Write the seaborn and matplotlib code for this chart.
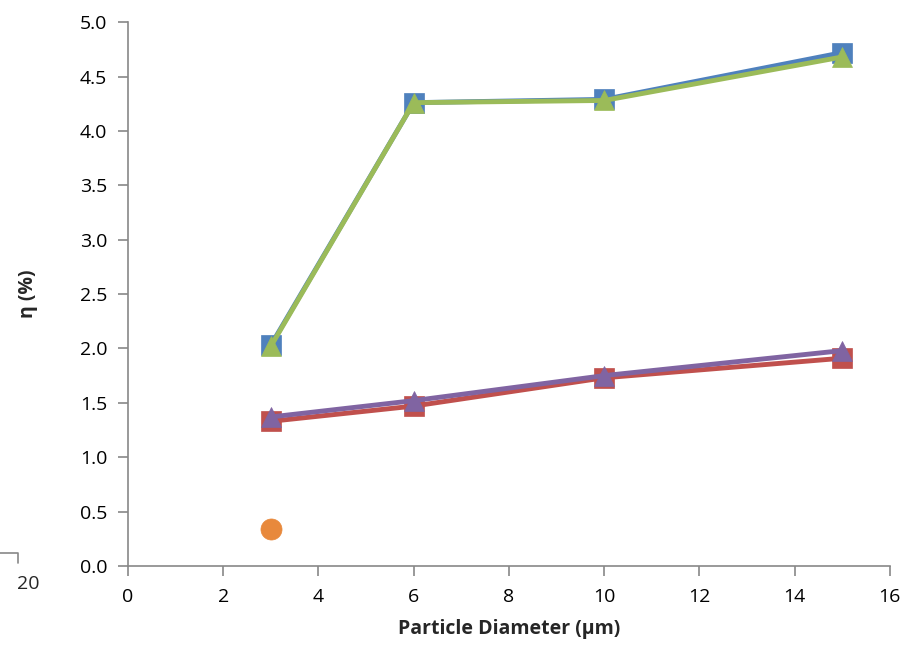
"""
Purpose: particle diameter vs efficiency chart
"""

# Dependencies
import numpy as np
import pandas as pd
import seaborn as sns
import matplotlib.pyplot as plt
from matplotlib.lines import Line2D

# Data
diameter = [3, 6, 10, 15]
blue_sq = [2.03, 4.26, 4.29, 4.72]
red_sq = [1.33, 1.47, 1.73, 1.91]
purple_tri = [1.37, 1.52, 1.75, 1.98]
green_tri = [2.02, 4.26, 4.28, 4.68]
orange_x = [3]
orange_pt = [0.34]

xticks = [0, 2, 4, 6, 8, 10, 12, 14, 16]
yticks = [0.0, 0.5, 1.0, 1.5, 2.0, 2.5, 3.0, 3.5, 4.0, 4.5, 5.0]

sns.set_style('white')
plt.rcParams['font.family'] = ['Open Sans', 'DejaVu Sans']

fig = plt.figure(figsize=(9.08, 6.52), dpi=100)
ax = fig.add_axes([0.141, 0.132, 0.839, 0.834])

series = [
    (blue_sq, '#4F81BD', 's'),
    (red_sq, '#C0504D', 's'),
    (purple_tri, '#8064A2', '^'),
    (green_tri, '#9BBB59', '^'),
]
for vals, col, mk in series:
    sns.lineplot(x=diameter, y=vals, ax=ax, color=col, linewidth=3.5,
                 marker=mk, markersize=14, markeredgecolor=col,
                 markeredgewidth=0.5)

sns.scatterplot(x=orange_x, y=orange_pt, ax=ax, color='#E8893C', s=230,
                edgecolor='#E8893C', linewidth=0.5, zorder=5)

ax.set_xlim(0, 16)
ax.set_ylim(0, 5.0)
ax.set_xticks(xticks)
ax.set_yticks(yticks)
ax.set_yticklabels([f'{v:.1f}' for v in yticks])
ax.tick_params(axis='both', left=True, bottom=True, labelsize=14,
               colors='#000000', length=7, width=1.2, direction='out',
               color='#888888', pad=8)
ax.tick_params(axis='x', pad=9)
for side in ['top', 'right']:
    ax.spines[side].set_visible(False)
for side in ['left', 'bottom']:
    ax.spines[side].set_color('#888888')
    ax.spines[side].set_linewidth(1.2)

ax.set_xlabel('Particle Diameter (µm)', fontsize=14, fontweight='bold', labelpad=9)
ax.set_ylabel('η (%)', fontsize=14, fontweight='bold', labelpad=30)

# remnant of neighbouring chart at left edge
fig.text(28 / 908, 1 - 584 / 652, '20', fontsize=14, ha='center', va='center')
fig.add_artist(Line2D([0, 18 / 908, 18 / 908],
                      [1 - 553 / 652, 1 - 553 / 652, 1 - 563 / 652],
                      transform=fig.transFigure, color='#888888', linewidth=1.2))

plt.savefig('out.png', dpi=100)
plt.close()
